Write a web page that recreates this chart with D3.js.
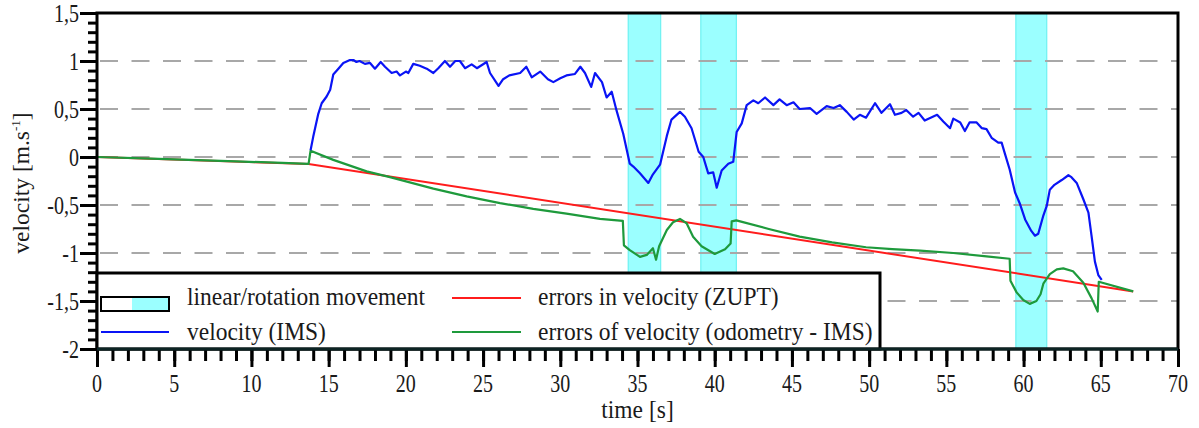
<!DOCTYPE html>
<html><head><meta charset="utf-8">
<script src="https://cdn.jsdelivr.net/npm/d3@7"></script>
<style>body{margin:0;background:#fff}svg{display:block}</style>
</head><body>
<svg id="c" width="1199" height="428" font-family="'Liberation Serif', 'Times New Roman', 'DejaVu Serif', serif"></svg>
<script>
// ---- data ----
const bands = [[34.4, 36.5], [39.1, 41.4], [59.5, 61.5]];
const redT = [0, 13.7, 67.1];
const redV = [0, -0.072, -1.40];
const greenT = [0,3,6,9,12,13.7,13.83,15.3,17.46,18.97,21.78,23.94,26.1,28.25,30.4,32.57,34.05,34.12,34.5,35.16,35.6,36.0,36.2,36.4,36.9,37.3,37.75,38.18,38.6,39.15,40.0,40.67,41.03,41.1,41.4,43.5,45.5,47.6,49.8,51.5,53.3,55.45,57.6,59.1,59.15,59.55,59.98,60.4,60.83,61.1,61.28,61.7,62.15,62.57,63.2,63.87,64.4,64.8,64.87,67.1];
const greenV = [0,-0.015,-0.03,-0.045,-0.062,-0.072,0.066,-0.03,-0.15,-0.21,-0.33,-0.41,-0.48,-0.54,-0.59,-0.645,-0.665,-0.92,-0.97,-1.04,-1.02,-0.95,-1.07,-0.93,-0.76,-0.68,-0.645,-0.69,-0.83,-0.93,-1.01,-0.96,-0.90,-0.67,-0.66,-0.75,-0.83,-0.89,-0.94,-0.96,-0.975,-1.0,-1.035,-1.06,-1.29,-1.41,-1.49,-1.53,-1.50,-1.43,-1.32,-1.22,-1.17,-1.16,-1.19,-1.31,-1.47,-1.61,-1.30,-1.40];
const blueT = [13.83,14.0,14.33,14.55,14.87,15.1,15.3,15.63,15.95,16.38,16.6,16.8,17.0,17.35,17.68,18.0,18.37,18.65,19.08,19.4,19.62,20.0,20.16,20.48,20.9,21.35,21.78,22.1,22.53,22.86,23.2,23.5,23.83,24.26,24.6,25.23,25.45,26.0,26.3,26.7,27.4,27.8,28.15,28.7,29.2,29.55,30.0,30.4,30.95,31.3,31.6,32.0,32.25,32.7,33.0,33.33,33.65,34.08,34.5,34.73,35.16,35.7,36.0,36.46,36.9,37.2,37.75,38.07,38.5,38.96,39.26,39.58,39.9,40.13,40.45,40.88,41.2,41.42,41.75,42.07,42.5,42.82,43.26,43.8,44.2,44.66,45.1,45.5,46.17,46.6,47.25,47.7,48.1,48.55,49.0,49.4,49.8,50.38,50.8,51.35,51.67,52.1,52.4,52.85,53.2,53.6,54.4,54.8,55.24,55.45,55.9,56.2,56.5,56.96,57.3,57.6,57.93,58.36,58.58,58.8,59.1,59.45,59.77,60.1,60.5,60.74,60.95,61.28,61.5,61.7,62.0,62.47,62.9,63.1,63.44,63.87,64.2,64.4,64.62,64.84,65.06];
const blueV = [0.07,0.21,0.45,0.56,0.63,0.70,0.86,0.92,0.98,1.01,1.01,0.99,1.0,0.97,0.98,0.92,0.99,0.94,0.875,0.89,0.85,0.89,0.875,0.97,0.95,0.92,0.875,0.925,1.0,0.94,1.0,1.0,0.925,0.965,0.925,0.99,0.875,0.74,0.81,0.85,0.875,0.94,0.83,0.89,0.81,0.78,0.82,0.85,0.865,0.94,0.875,0.73,0.875,0.78,0.62,0.68,0.48,0.24,-0.07,-0.10,-0.17,-0.27,-0.18,-0.08,0.22,0.39,0.47,0.42,0.30,0.055,0.0,-0.17,-0.16,-0.32,-0.14,-0.07,-0.05,0.26,0.35,0.54,0.59,0.56,0.62,0.54,0.60,0.54,0.57,0.50,0.51,0.45,0.53,0.51,0.54,0.47,0.39,0.44,0.41,0.56,0.46,0.55,0.44,0.46,0.49,0.42,0.46,0.38,0.44,0.37,0.30,0.40,0.36,0.27,0.36,0.36,0.30,0.29,0.20,0.15,0.15,0.03,-0.13,-0.37,-0.49,-0.65,-0.77,-0.82,-0.80,-0.61,-0.51,-0.34,-0.29,-0.24,-0.19,-0.21,-0.27,-0.44,-0.58,-0.82,-1.09,-1.23,-1.28];
const xMajor = [0,5,10,15,20,25,30,35,40,45,50,55,60,65,70];
const yMajor = [1.5,1,0.5,0,-0.5,-1,-1.5,-2];
const yLabels = ["1,5","1","0,5","0","-0,5","-1","-1,5","-2"];
const gridVals = [1,0.5,0,-0.5,-1,-1.5];
const legendItems = ["linear/rotation movement","velocity (IMS)","errors in velocity (ZUPT)","errors of velocity (odometry - IMS)"];

// ---- chart ----
const FONT = "'Liberation Serif', 'Times New Roman', 'DejaVu Serif', serif";
const L=97, R=1178, T=13, B=349;
const svg = d3.select("#c");
const x = d3.scaleLinear().domain([0,70]).range([L,R]);
const y = d3.scaleLinear().domain([-2,1.5]).range([B,T]);

svg.append("defs").append("clipPath").attr("id","clip")
  .append("rect").attr("x",L).attr("y",T).attr("width",R-L).attr("height",B-T);

// bands
svg.append("g").selectAll("rect").data(bands).join("rect")
  .attr("x",d=>x(d[0])).attr("y",T).attr("width",d=>x(d[1])-x(d[0])).attr("height",B-T)
  .attr("fill","#9bffff").attr("stroke","#6ef2f2").attr("stroke-width",1.2);

// grid
svg.append("g").selectAll("line").data(gridVals).join("line")
  .attr("x1",L+3).attr("x2",R).attr("y1",d=>y(d)).attr("y2",d=>y(d))
  .attr("stroke","#a8a8a8").attr("stroke-width",2).attr("stroke-dasharray","18,13.5");

const mk = (T_,V_) => T_.map((t,i)=>[t,V_[i]]);
const line = d3.line().x(d=>x(d[0])).y(d=>y(d[1]));
const plot = svg.append("g").attr("clip-path","url(#clip)");
plot.append("path").attr("d",line(mk(redT,redV))).attr("fill","none").attr("stroke","#ff1c1c").attr("stroke-width",2);
plot.append("path").attr("d",line(mk(greenT,greenV))).attr("fill","none").attr("stroke","#1e9a3c").attr("stroke-width",2.2).attr("stroke-linejoin","round");
plot.append("path").attr("d",line(mk(blueT,blueV))).attr("fill","none").attr("stroke","#0a14f5").attr("stroke-width",2.2).attr("stroke-linejoin","round");

// axes ticks
function styleAx(g){ g.select(".domain").remove(); g.selectAll(".tick line").attr("stroke","#000").attr("stroke-width",3); g.selectAll("text").remove(); }
svg.append("g").attr("transform",`translate(0,${B})`).call(d3.axisBottom(x).tickValues(d3.range(0,71,1)).tickSize(12).tickFormat("")).call(styleAx);
svg.append("g").attr("transform",`translate(0,${B})`).call(d3.axisBottom(x).tickValues(xMajor).tickSize(18).tickFormat("")).call(styleAx);
svg.append("g").attr("transform",`translate(${L},0)`).call(d3.axisLeft(y).tickValues(d3.range(-20,16,1).map(v=>v/10)).tickSize(9).tickFormat("")).call(styleAx);
svg.append("g").attr("transform",`translate(${L},0)`).call(d3.axisLeft(y).tickValues(yMajor).tickSize(17).tickFormat("")).call(styleAx);

function txt(px,py,s,size,sy,anchor){
  return svg.append("text").attr("transform",`translate(${px},${py}) scale(1,${sy})`)
    .attr("font-family",FONT).attr("fill","#1a1a1a")
    .attr("font-size",size).attr("text-anchor",anchor||"start").text(s);
}
xMajor.forEach(v=>txt(x(v),392,String(v),20,1.25,"middle"));
yMajor.forEach((v,i)=>txt(79,y(v)+8.5,yLabels[i],20,1.25,"end"));
txt(x(35),418,"time [s]",23.5,1.1,"middle");
const yt = svg.append("text").attr("transform","translate(29,183) rotate(-90)").attr("font-family",FONT).attr("fill","#1a1a1a").attr("font-size",23.5).attr("text-anchor","middle");
yt.append("tspan").text("velocity [m.s");
yt.append("tspan").attr("font-size",13).attr("dy",-9).text("-1");
yt.append("tspan").attr("dy",9).text("]");

// frame
svg.append("rect").attr("x",L).attr("y",T).attr("width",R-L).attr("height",B-T).attr("fill","none").attr("stroke","#000").attr("stroke-width",3);

// legend
svg.append("rect").attr("x",L).attr("y",273).attr("width",880-L).attr("height",B-273).attr("fill","#fff").attr("stroke","#000").attr("stroke-width",3);
svg.append("rect").attr("x",132).attr("y",297).attr("width",37).attr("height",14).attr("fill","#9bffff");
svg.append("rect").attr("x",101).attr("y",297).attr("width",68).attr("height",14).attr("fill","none").attr("stroke","#000").attr("stroke-width",2);
svg.append("line").attr("x1",101).attr("x2",169).attr("y1",332).attr("y2",332).attr("stroke","#0a14f5").attr("stroke-width",2);
svg.append("line").attr("x1",452).attr("x2",521).attr("y1",298).attr("y2",298).attr("stroke","#ff1c1c").attr("stroke-width",2);
svg.append("line").attr("x1",452).attr("x2",521).attr("y1",332).attr("y2",332).attr("stroke","#1e9a3c").attr("stroke-width",2);
txt(187,305,legendItems[0],23.5,1.1);
txt(187,340,legendItems[1],23.5,1.1);
txt(538,305,legendItems[2],23.5,1.1);
txt(538,340,legendItems[3],23.5,1.1);
// redraw bottom axis line over legend
svg.append("line").attr("x1",L).attr("x2",R).attr("y1",B).attr("y2",B).attr("stroke","#0c2424").attr("stroke-width",3);
</script>
</body></html>
